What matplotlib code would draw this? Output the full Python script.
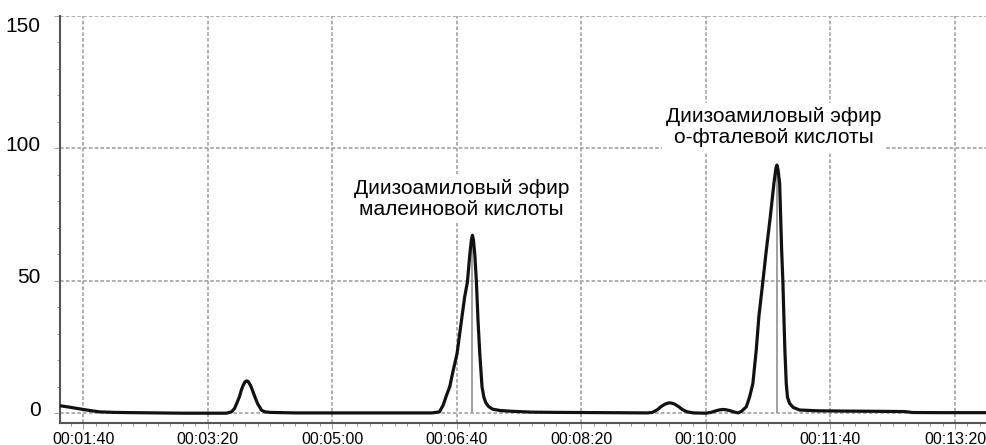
import numpy as np
import matplotlib
matplotlib.use("Agg")
import matplotlib.pyplot as plt
from matplotlib.ticker import FuncFormatter, MultipleLocator
from matplotlib.transforms import ScaledTranslation

plt.rcParams["font.family"] = ["Liberation Sans", "DejaVu Sans"]

# retention time, s / detector signal
time_s = [81.5, 90, 100, 107, 113, 125, 140, 160, 180, 215,
          219, 221.5, 223.5, 225.4, 227, 228.4, 230, 231.2, 232.5, 234.3, 236,
          237.8, 240, 243.2, 246, 250, 270, 300, 340, 380,
          386, 389, 391.5, 394.3, 397, 400.2, 403.7, 406.3, 408.5, 410.4, 411.7,
          412.5, 413.3, 414.4, 415.7, 417, 418.4, 420.2, 421.7, 423.2, 425.5,
          428.8, 435, 445, 460, 480, 520, 553,
          557, 561, 564, 567, 569.5, 571, 572.5, 575, 578, 581, 585, 590, 600,
          604, 608, 611, 613.6, 616, 619, 623, 626, 628.5, 632.4, 635, 637.7,
          640.4, 642.5, 645.7, 648.5, 651.7, 654.6, 656.2, 657, 657.9, 659.2,
          660, 660.8, 661.8, 662.6, 663.4, 664.5, 665.5, 667.2, 670, 675.2,
          690, 710, 740, 760, 766, 790, 826]
signal = [2.8, 2.2, 1.4, 0.9, 0.5, 0.3, 0.2, 0.1, 0.0, 0.0,
          0.5, 1.8, 4.0, 6.2, 8.8, 10.5, 11.9, 12.2, 11.9, 10.5, 8.5,
          6.2, 3.6, 1.1, 0.5, 0.3, 0.1, 0.1, 0.1, 0.1,
          0.5, 3.0, 6.5, 10.0, 16.0, 22.6, 35.0, 44.0, 49.6, 60.0, 65.5,
          67.2, 65.5, 60.0, 49.6, 35.0, 22.6, 10.0, 6.0, 4.0, 2.5,
          1.5, 1.0, 0.7, 0.4, 0.3, 0.2, 0.1,
          0.3, 1.3, 2.5, 3.4, 3.8, 3.9, 3.8, 3.4, 2.5, 1.4, 0.5, 0.1, 0.0,
          0.3, 0.9, 1.25, 1.4, 1.3, 1.0, 0.4, 0.1, 0.7, 2.4, 6.0, 11.2,
          23.8, 36.4, 49.6, 61.6, 74.2, 86.8, 92.5, 93.7, 92.0, 86.8,
          74.2, 61.6, 49.6, 36.4, 23.8, 11.2, 6.0, 3.7, 2.2, 1.2,
          0.9, 0.8, 0.7, 0.6, 0.25, 0.2, 0.2]

peak_times = [412.5, 657]
labels = ["Диизоамиловый эфир\nмалеиновой кислоты",
          "Диизоамиловый эфир\nо-фталевой кислоты"]
label_pos = [(403.5, 81), (654.5, 108)]


def hms(v, pos):
    v = int(round(v))
    return "%02d:%02d:%02d" % (v // 3600, v // 60 % 60, v % 60)


fig = plt.figure(figsize=(9.87, 4.45), dpi=100)
ax = fig.add_axes([0.061, 0.049, 0.939, 0.915])

ax.plot(time_s, signal, color="#111111", lw=2.3, zorder=3)
tops = np.interp(peak_times, time_s, signal)
ax.vlines(peak_times, 0, tops, color="#999999", lw=1.3, zorder=2)

for txt, (x, y) in zip(labels, label_pos):
    ax.text(x, y, txt, ha="center", va="center", fontsize=15, linespacing=1.15,
            zorder=4, bbox=dict(fc="white", ec="none", pad=3))

ax.set_xlim(81.5, 825.7)
ax.set_ylim(-3.78, 150)
ax.xaxis.set_major_locator(MultipleLocator(100))
ax.xaxis.set_minor_locator(MultipleLocator(10))
ax.xaxis.set_major_formatter(FuncFormatter(hms))
ax.yaxis.set_major_locator(MultipleLocator(50))
ax.yaxis.set_minor_locator(MultipleLocator(10))

ax.grid(True, which="major", color="#a8a8a8", lw=1.3, ls=(0, (2, 1.2)))
ax.set_axisbelow(True)
ax.tick_params(axis="x", which="major", length=4, color="#a8a8a8", labelsize=11.5, pad=2)
ax.tick_params(axis="y", which="major", length=4, color="#a8a8a8", labelsize=15, pad=10)
ax.tick_params(which="minor", length=2.5, color="#888888")
# labels sit a little above their gridline, the top one is pushed down
for val, lab in zip(ax.get_yticks(), ax.get_yticklabels()):
    dy = -8 if val >= 150 else 5
    lab.set_transform(lab.get_transform() + ScaledTranslation(0, dy / 100, fig.dpi_scale_trans))

for side in ["top", "right"]:
    ax.spines[side].set_visible(False)
for side in ["left", "bottom"]:
    ax.spines[side].set_color("#555555")
    ax.spines[side].set_linewidth(1.5)

fig.savefig("out.png", dpi=100)
